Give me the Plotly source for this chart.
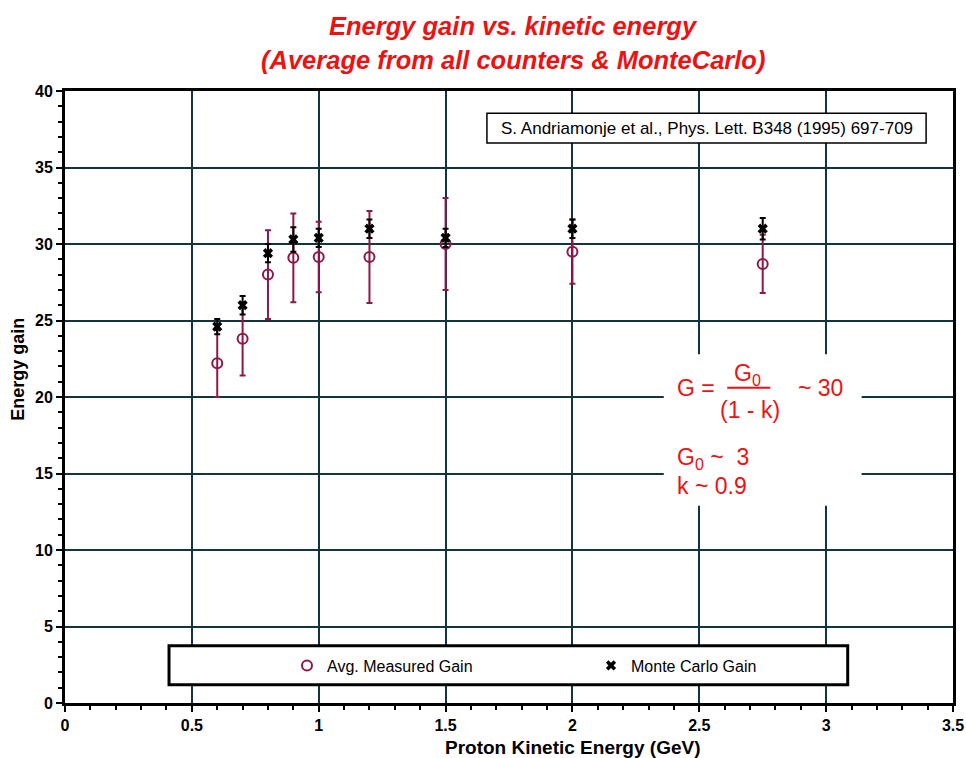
import plotly.graph_objects as go

# ---- data ----
energy = [0.6, 0.7, 0.8, 0.9, 1.0, 1.2, 1.5, 2.0, 2.75]
measured_gain = [22.2, 23.8, 28.0, 29.1, 29.15, 29.15, 30.0, 29.5, 28.7]
measured_err = [2.2, 2.4, 2.9, 2.9, 2.3, 3.0, 3.0, 2.1, 1.9]
mc_gain = [24.6, 26.0, 29.4, 30.3, 30.4, 31.0, 30.4, 31.0, 31.0]
mc_err = [0.5, 0.6, 0.6, 0.8, 0.6, 0.6, 0.6, 0.6, 0.7]

FONT = "Liberation Sans, Arial, sans-serif"
RED = "#ee1111"

fig = go.Figure()
fig.add_trace(go.Scatter(
    x=energy, y=measured_gain, mode="markers", name="Avg. Measured Gain",
    marker=dict(symbol="circle-open", size=10, color="#8b1a4a", line=dict(width=2, color="#8b1a4a")),
    error_y=dict(type="data", array=measured_err, visible=True, color="#8b1a4a", thickness=2, width=3),
))
fig.add_trace(go.Scatter(
    x=energy, y=mc_gain, mode="markers", name="Monte Carlo Gain",
    marker=dict(symbol="x", size=9, color="black", line=dict(width=0)),
    error_y=dict(type="data", array=mc_err, visible=True, color="black", thickness=2, width=3),
))

# white box behind the formula
fig.add_shape(type="rect", xref="x", yref="y", x0=2.36, x1=3.14, y0=12.9, y1=22.8,
              fillcolor="white", line=dict(width=0), layer="above")
# reference box
fig.add_shape(type="rect", xref="x", yref="y", x0=1.663, x1=3.394, y0=36.6, y1=38.55,
              fillcolor="white", line=dict(width=1.5, color="black"), layer="above")
# legend box
fig.add_shape(type="rect", xref="x", yref="y", x0=0.41, x1=3.085, y0=1.2, y1=3.75,
              fillcolor="white", line=dict(width=3, color="black"), layer="above")
# fraction line
fig.add_shape(type="line", xref="x", yref="y", x0=2.61, x1=2.78, y0=20.6, y1=20.6,
              line=dict(width=2, color=RED), layer="above")

ann = []
def A(text, x, y, size, color="black", xanchor="center", xref="x", yref="y"):
    ann.append(dict(text=text, x=x, y=y, xref=xref, yref=yref, showarrow=False,
                    xanchor=xanchor, yanchor="middle", font=dict(family=FONT, size=size, color=color)))

A("S. Andriamonje et al., Phys. Lett. B348 (1995) 697-709", 2.53, 37.55, 17)
A("G =", 2.487, 20.6, 23, RED)
A("G<sub>0</sub>", 2.69, 21.5, 23, RED)
A("(1 - k)", 2.70, 19.15, 23, RED)
A("~ 30", 2.978, 20.6, 23, RED)
A("G<sub>0</sub> ~  3", 2.405, 16.0, 23, RED, xanchor="left")
A("k ~ 0.9", 2.405, 14.2, 23, RED, xanchor="left")
A("<b><i>Energy gain vs. kinetic energy</i></b>", 0.505, 1.106, 25.5, RED, xref="paper", yref="paper")
A("<b><i>(Average from all counters &amp; MonteCarlo)</i></b>", 0.505, 1.051, 25.5, RED, xref="paper", yref="paper")
A("<b>Energy gain</b>", -0.053, 0.546, 18, xref="paper", yref="paper")
ann[-1]["textangle"] = -90
A("<b>Proton Kinetic Energy (GeV)</b>", 0.571, -0.072, 19, xref="paper", yref="paper")

fig.update_layout(
    width=966, height=758,
    margin=dict(l=65, r=13, t=91, b=55, autoexpand=False),
    paper_bgcolor="white", plot_bgcolor="white",
    font=dict(family=FONT, color="black"),
    annotations=ann,
    showlegend=True,
    legend=dict(orientation="h", x=0.25, xanchor="left", y=2.45 / 40, yref="paper", yanchor="middle",
                bgcolor="rgba(0,0,0,0)", borderwidth=0, entrywidth=259,
                font=dict(family=FONT, size=16, color="black")),
)

fig.update_xaxes(range=[0, 3.5], dtick=0.5, tick0=0, showgrid=True, gridcolor="#12343e", gridwidth=2,
                 zeroline=False, showline=True, mirror=True, linewidth=3, linecolor="black",
                 ticks="outside", ticklen=6, tickwidth=2, tickcolor="black",
                 tickfont=dict(family=FONT, size=16, color="black", weight="bold"),
                 minor=dict(dtick=0.1, ticks="outside", ticklen=4, tickwidth=1.5, tickcolor="black", showgrid=False))
fig.update_yaxes(range=[0, 40], dtick=5, tick0=0, showgrid=True, gridcolor="#12343e", gridwidth=2,
                 zeroline=False, showline=True, mirror=True, linewidth=3, linecolor="black",
                 ticks="outside", ticklen=6, tickwidth=2, tickcolor="black",
                 tickfont=dict(family=FONT, size=16, color="black", weight="bold"),
                 minor=dict(dtick=1, ticks="outside", ticklen=4, tickwidth=1.5, tickcolor="black", showgrid=False))

fig.write_html("out.html")
